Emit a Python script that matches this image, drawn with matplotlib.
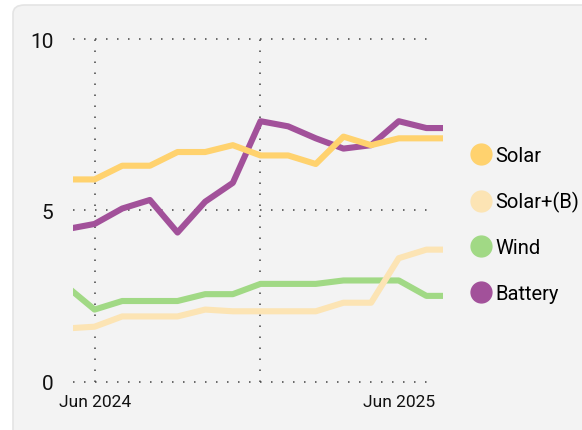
import matplotlib.pyplot as plt
import matplotlib.transforms as mtransforms
from matplotlib.patches import FancyBboxPatch
from matplotlib.lines import Line2D
import numpy as np

plt.rcParams['font.family'] = ['Roboto', 'DejaVu Sans']

months = ["May 2024", "Jun 2024", "Jul 2024", "Aug 2024", "Sep 2024",
          "Oct 2024", "Nov 2024", "Dec 2024", "Jan 2025", "Feb 2025",
          "Mar 2025", "Apr 2025", "May 2025", "Jun 2025", "Jul 2025"]
solar = [5.9, 5.9, 6.3, 6.3, 6.7, 6.7, 6.9, 6.6, 6.6, 6.35, 7.15, 6.9, 7.1, 7.1, 7.1]
solar_b = [1.55, 1.6, 1.9, 1.9, 1.9, 2.1, 2.05, 2.05, 2.05, 2.05, 2.3, 2.3, 3.6, 3.85, 3.85]
wind = [2.77, 2.1, 2.35, 2.35, 2.35, 2.55, 2.55, 2.85, 2.85, 2.85, 2.95, 2.95, 2.95, 2.5, 2.5]
battery = [4.45, 4.6, 5.05, 5.3, 4.35, 5.25, 5.8, 7.6, 7.45, 7.1, 6.8, 6.9, 7.6, 7.4, 7.4]

series = [("Solar", solar, "#FFD26E"),
          ("Solar+(B)", solar_b, "#FCE4B4"),
          ("Wind", wind, "#A1D985"),
          ("Battery", battery, "#A2519A")]

yticks = [0, 5, 10]
xlabels = ["Jun 2024", "Jun 2025"]
vgrid = ["Jun 2024", "Dec 2024"]

x = np.arange(len(months)) - 1

fig = plt.figure(figsize=(5.82, 4.31), dpi=100)
fig.patch.set_facecolor('white')
panel = FancyBboxPatch((13 / 582, -0.1), 1.2, (431 - 6) / 431 + 0.1,
                       boxstyle="round,pad=0,rounding_size=0.02",
                       transform=fig.transFigure, facecolor='#F3F3F3',
                       edgecolor='#E4E4E4', linewidth=1.2, zorder=-5)
fig.patches.append(panel)

ax = fig.add_axes([73 / 582, 48.5 / 431, 370 / 582, 342.5 / 431])
ax.set_facecolor('none')

for name, vals, col in series[::-1]:
    ax.plot(x, vals, color=col, lw=4.4, solid_joinstyle='round', zorder=3)

ax.set_xlim(-0.78, 12.6)
ax.set_ylim(0, 10)

for yv in yticks:
    ax.axhline(yv, xmax=0.978, color='#444444', lw=1.1,
               linestyle=(0, (1, 6.2)), zorder=1, clip_on=False)
for m in vgrid:
    ax.axvline(months.index(m) - 1, color='#444444', lw=1.1,
               linestyle=(0, (1, 6.2)), zorder=1)

for s in ax.spines.values():
    s.set_visible(False)

ax.set_yticks(yticks)
ax.set_yticklabels([str(v) for v in yticks], fontsize=15, color='#111111')
ax.set_xticks([months.index(m) - 1 for m in xlabels])
ax.set_xticklabels(xlabels, fontsize=12.5, color='#111111')
ax.tick_params(axis='both', length=0)
ax.tick_params(axis='y', pad=14)
ax.tick_params(axis='x', pad=9)

lbls = ax.get_xticklabels()
lbls[-1].set_ha('right')
lbls[-1].set_transform(lbls[-1].get_transform() +
                       mtransforms.ScaledTranslation(0.09, 0, fig.dpi_scale_trans))

handles = [Line2D([], [], marker='o', linestyle='none', markersize=15,
                  markerfacecolor=col, markeredgecolor=col, label=name)
           for name, vals, col in series]
fig.legend(handles=handles, loc='upper left', bbox_to_anchor=(460 / 582, 1 - 139 / 431),
           frameon=False, fontsize=14.5, labelspacing=1.3, handletextpad=0.05,
           handlelength=1.3, borderaxespad=0)

fig.savefig('out.png', dpi=100)
